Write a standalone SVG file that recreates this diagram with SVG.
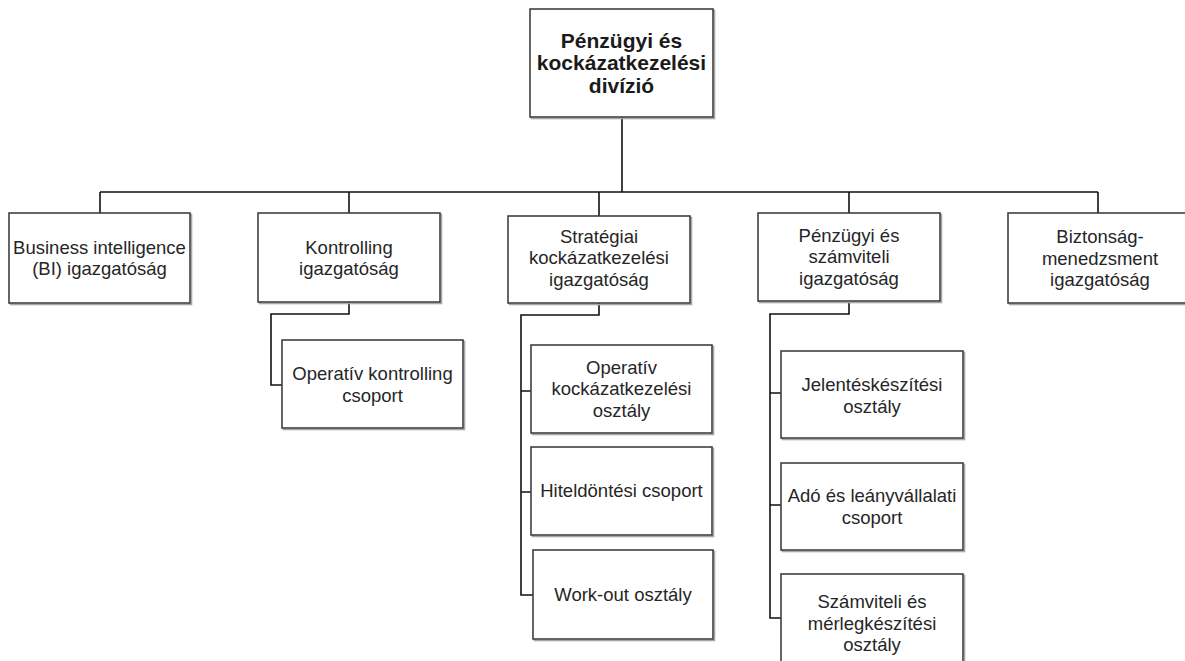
<svg xmlns="http://www.w3.org/2000/svg" width="1185" height="661" viewBox="0 0 1185 661">
<defs>
<style>
.box{fill:#fff;stroke:#404040;stroke-width:1.6}
.sh{fill:none;stroke:#a8a8a8;stroke-width:1.6}
.t{font-family:"Liberation Sans",Arial,sans-serif;font-size:18.5px;fill:#262626;text-anchor:middle}
.tb{font-family:"Liberation Sans",Arial,sans-serif;font-size:21px;font-weight:bold;fill:#1a1a1a;text-anchor:middle}
.c{fill:none;stroke:#111;stroke-width:1.6}
</style>
</defs>
<rect width="1185" height="661" fill="#fff"/>
<g id="connectors">
<path class="c" d="M622 117V192M100 192H1098M100 192V213M349 192V213M599 192V216M849 192V213M1098 192V213"/>
<path class="c" d="M349 302V314H271V385H282"/>
<path class="c" d="M599 303V315H521V595H533M521 391H531M521 492H531" stroke-width="2"/>
<path class="c" d="M849 302V314H770V618H781M770 393H781M770 505H781" stroke-width="2"/>
</g>
<g id="n_top">
<rect class="sh" x="531.5" y="10.5" width="183" height="108"/>
<rect class="box" x="530" y="9" width="183" height="108"/>
<text class="tb" x="621.5" y="47.5">Pénzügyi és</text>
<text class="tb" x="621.5" y="70">kockázatkezelési</text>
<text class="tb" x="621.5" y="93">divízió</text>
</g>
<g id="n_bi">
<rect class="sh" x="10.5" y="214.5" width="181" height="90"/>
<rect class="box" x="9" y="213" width="181" height="90"/>
<text class="t" x="99.5" y="253.5">Business intelligence</text>
<text class="t" x="99.5" y="275.2">(BI) igazgatóság</text>
</g>
<g id="n_kontrolling">
<rect class="sh" x="259.5" y="214.5" width="182" height="89"/>
<rect class="box" x="258" y="213" width="182" height="89"/>
<text class="t" x="349" y="253.5">Kontrolling</text>
<text class="t" x="349" y="275.2">igazgatóság</text>
</g>
<g id="n_opkontrolling">
<rect class="sh" x="283.5" y="341.5" width="181" height="88"/>
<rect class="box" x="282" y="340" width="181" height="88"/>
<text class="t" x="372.5" y="379.8">Operatív kontrolling</text>
<text class="t" x="372.5" y="401.5">csoport</text>
</g>
<g id="n_strat">
<rect class="sh" x="509.5" y="217.5" width="182" height="87"/>
<rect class="box" x="508" y="216" width="182" height="87"/>
<text class="t" x="599" y="242.5">Stratégiai</text>
<text class="t" x="599" y="264.2">kockázatkezelési</text>
<text class="t" x="599" y="285.9">igazgatóság</text>
</g>
<g id="n_opkock">
<rect class="sh" x="532.5" y="346.5" width="181" height="88"/>
<rect class="box" x="531" y="345" width="181" height="88"/>
<text class="t" x="621.5" y="373.5">Operatív</text>
<text class="t" x="621.5" y="395.2">kockázatkezelési</text>
<text class="t" x="621.5" y="416.9">osztály</text>
</g>
<g id="n_hitel">
<rect class="sh" x="532.5" y="448.5" width="181" height="88"/>
<rect class="box" x="531" y="447" width="181" height="88"/>
<text class="t" x="621.5" y="497.2">Hiteldöntési csoport</text>
</g>
<g id="n_workout">
<rect class="sh" x="534.5" y="551.5" width="180" height="89"/>
<rect class="box" x="533" y="550" width="180" height="89"/>
<text class="t" x="623" y="600.8">Work-out osztály</text>
</g>
<g id="n_penz">
<rect class="sh" x="759.5" y="214.5" width="182" height="88"/>
<rect class="box" x="758" y="213" width="182" height="88"/>
<text class="t" x="849" y="241.6">Pénzügyi és</text>
<text class="t" x="849" y="263.3">számviteli</text>
<text class="t" x="849" y="285">igazgatóság</text>
</g>
<g id="n_jelentes">
<rect class="sh" x="782.5" y="352.5" width="182" height="87"/>
<rect class="box" x="781" y="351" width="182" height="87"/>
<text class="t" x="872" y="391">Jelentéskészítési</text>
<text class="t" x="872" y="412.7">osztály</text>
</g>
<g id="n_ado">
<rect class="sh" x="782.5" y="464.5" width="182" height="87"/>
<rect class="box" x="781" y="463" width="182" height="87"/>
<text class="t" x="872" y="502.2">Adó és leányvállalati</text>
<text class="t" x="872" y="523.9">csoport</text>
</g>
<g id="n_szamviteli">
<rect class="sh" x="782.5" y="575.5" width="182" height="95"/>
<rect class="box" x="781" y="574" width="182" height="95"/>
<text class="t" x="872" y="608.3">Számviteli és</text>
<text class="t" x="872" y="629.5">mérlegkészítési</text>
<text class="t" x="872" y="650.7">osztály</text>
</g>
<g id="n_bizt">
<rect class="sh" x="1009.5" y="214.5" width="182" height="90"/>
<rect class="box" x="1008" y="213" width="182" height="90"/>
<text class="t" x="1100" y="243">Biztonság-</text>
<text class="t" x="1100" y="264.7">menedzsment</text>
<text class="t" x="1100" y="286.4">igazgatóság</text>
</g>
</svg>
